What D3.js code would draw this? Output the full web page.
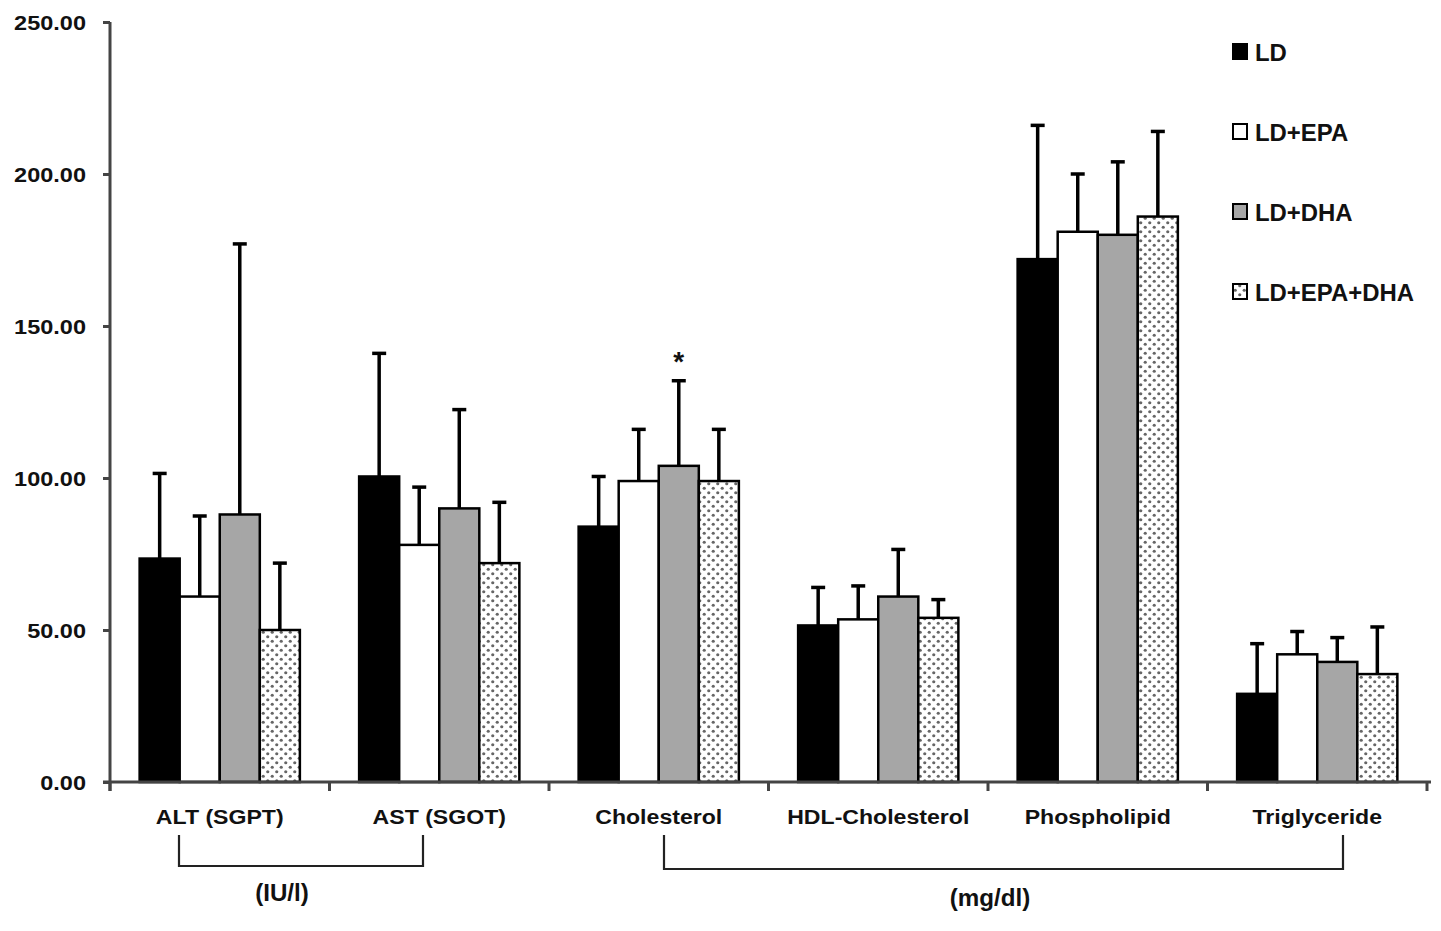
<!DOCTYPE html>
<html><head><meta charset="utf-8">
<script src="https://cdn.jsdelivr.net/npm/d3@7"></script>
<style>body{margin:0;background:#fff}svg{display:block}text{font-family:"Liberation Sans",Arial,sans-serif;font-weight:bold;fill:#111}</style>
</head><body><svg id="c" width="1441" height="931"></svg>
<script>
const categories = ["ALT (SGPT)","AST (SGOT)","Cholesterol","HDL-Cholesterol","Phospholipid","Triglyceride"];
const seriesNames = ["LD","LD+EPA","LD+DHA","LD+EPA+DHA"];
const meanLD      = [73.5, 100.5, 84, 51.5, 172, 29];
const meanEPA     = [61, 78, 99, 53.5, 181, 42];
const meanDHA     = [88, 90, 104, 61, 180, 39.5];
const meanEPADHA  = [50, 72, 99, 54, 186, 35.5];
const upperLD     = [101.5, 141, 100.5, 64, 216, 45.5];
const upperEPA    = [87.5, 97, 116, 64.5, 200, 49.5];
const upperDHA    = [177, 122.5, 132, 76.5, 204, 47.5];
const upperEPADHA = [72, 92, 116, 60, 214, 51];
const yTicks = [0, 50, 100, 150, 200, 250];
const unitGroups = [{label:"(IU/l)", from:0, to:1}, {label:"(mg/dl)", from:2, to:5}];
const starred = [{cat:2, series:2}];

const means = [meanLD, meanEPA, meanDHA, meanEPADHA];
const uppers = [upperLD, upperEPA, upperDHA, upperEPADHA];

const svg = d3.select("#c");
const defs = svg.append("defs");
const pat = defs.append("pattern").attr("id","dots").attr("patternUnits","userSpaceOnUse")
  .attr("width",9).attr("height",9);
pat.append("rect").attr("width",9).attr("height",9).attr("fill","#fff");
[[2.25,2.25],[6.75,6.75]].forEach(p=>pat.append("circle").attr("cx",p[0]).attr("cy",p[1]).attr("r",1.6).attr("fill","#666"));
const fills = ["#000","#fff","#a6a6a6","url(#dots)"];

const x0 = 110, x1 = 1427, yTop = 22, yBot = 782;
const x = d3.scaleBand().domain(categories).range([x0,x1]).paddingInner(0.27).paddingOuter(0.135);
const xs = d3.scaleBand().domain(seriesNames).range([0,x.bandwidth()]);
const y = d3.scaleLinear().domain([0,250]).range([yBot,yTop]);

function sText(g, txt, tx, ty, size, anchor, sx){
  return g.append("text").attr("transform",`translate(${tx},${ty}) scale(${sx},1)`)
    .attr("font-size",size).attr("text-anchor",anchor).text(txt);
}

// bars
const gb = svg.append("g");
categories.forEach((c,ci)=>{
  seriesNames.forEach((s,si)=>{
    const bx = x(c)+xs(s), bw = xs.bandwidth();
    const v = means[si][ci], u = uppers[si][ci];
    const cx = bx + bw/2;
    gb.append("line").attr("x1",cx).attr("x2",cx).attr("y1",y(v)).attr("y2",y(u)).attr("stroke","#000").attr("stroke-width",3.5);
    gb.append("line").attr("x1",cx-7).attr("x2",cx+7).attr("y1",y(u)).attr("y2",y(u)).attr("stroke","#000").attr("stroke-width",3.5);
    gb.append("rect").attr("x",bx).attr("y",y(v)).attr("width",bw).attr("height",y(0)-y(v))
      .attr("fill",fills[si]).attr("stroke","#000").attr("stroke-width",2.5);
  });
});

// axes
const ga = svg.append("g");
const yAxis = d3.axisLeft(y).tickValues(yTicks).tickSize(7).tickFormat(d3.format(".2f"));
const gy = ga.append("g").attr("transform",`translate(${x0},0)`).call(yAxis);
gy.select(".domain").remove();
gy.selectAll(".tick line").attr("stroke","#444").attr("stroke-width",3);
gy.selectAll(".tick text").remove();
yTicks.forEach(t=>sText(ga, d3.format(".2f")(t), 86, y(t)+7.5, 21, "end", 1.12));
ga.append("line").attr("x1",x0).attr("x2",x0).attr("y1",yTop).attr("y2",yBot+9).attr("stroke","#444").attr("stroke-width",3);
ga.append("line").attr("x1",x0-7).attr("x2",x1+4).attr("y1",yBot).attr("y2",yBot).attr("stroke","#444").attr("stroke-width",3);
const bounds = categories.map(c=>x(c)-x.step()*x.paddingInner()/2).concat([x1]);
bounds.forEach(b=>ga.append("line").attr("x1",b).attr("x2",b).attr("y1",yBot).attr("y2",yBot+9).attr("stroke","#444").attr("stroke-width",3));

// category labels
categories.forEach(c=>sText(ga, c, x(c)+x.bandwidth()/2, 824, 21, "middle", 1.1));

// unit brackets
const bracketX = [[179,423],[664,1343]];
const bracketY = [866,869];
const labelPos = [[282,901],[990,906]];
unitGroups.forEach((u,i)=>{
  const [a,b] = bracketX[i];
  ga.append("path").attr("d",`M${a},835V${bracketY[i]}H${b}V835`).attr("fill","none").attr("stroke","#222").attr("stroke-width",2.2);
  sText(ga, u.label, labelPos[i][0], labelPos[i][1], 23, "middle", 1.05);
});

// asterisk
starred.forEach(s=>{
  const cx = x(categories[s.cat])+xs(seriesNames[s.series])+xs.bandwidth()/2;
  sText(ga, "*", cx, y(uppers[s.series][s.cat])-10, 28, "middle", 1);
});

// legend
const gl = svg.append("g");
seriesNames.forEach((s,i)=>{
  const ly = 52 + i*80;
  gl.append("rect").attr("x",1233).attr("y",ly-8).attr("width",14).attr("height",15)
    .attr("fill",fills[i]).attr("stroke","#000").attr("stroke-width",2);
  sText(gl, s, 1255, ly+8.5, 23, "start", 1.04);
});
</script></body></html>
